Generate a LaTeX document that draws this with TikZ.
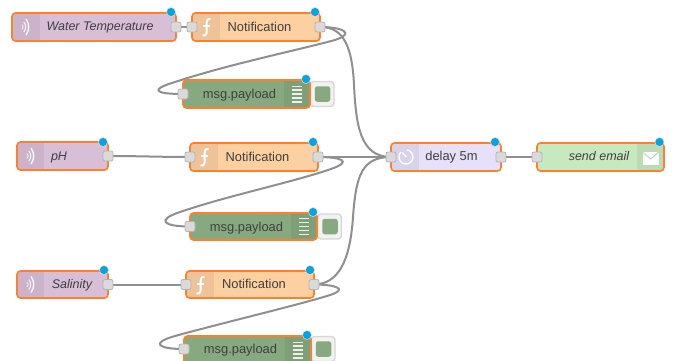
\documentclass[tikz,border=0pt]{standalone}
\usepackage{fontspec}
\setmainfont{Liberation Sans}
\usetikzlibrary{backgrounds,calc}
\definecolor{sel}{HTML}{FF7F2A}
\definecolor{wire}{HTML}{8F8F8F}
\definecolor{portf}{HTML}{DADADA}
\definecolor{portd}{HTML}{B4B4B4}
\definecolor{blue1}{HTML}{00A5E5}
\definecolor{cin}{HTML}{D8BFD8}\definecolor{cinb}{HTML}{CBB3CB}
\definecolor{cfn}{HTML}{FDD0A2}\definecolor{cfnb}{HTML}{EFC399}
\definecolor{cdbg}{HTML}{87A980}\definecolor{cdbgb}{HTML}{7F9F78}
\definecolor{cdel}{HTML}{E6E0F8}\definecolor{cdelb}{HTML}{D9D3EA}
\definecolor{cmail}{HTML}{C7E9C0}\definecolor{cmailb}{HTML}{BBDBB5}
\definecolor{ink}{HTML}{3F3F3F}
\tikzset{
  x=1pt,y=-1pt,
  bodybox/.style={draw=sel,line width=1.6pt,rounded corners=3.5pt,inner sep=0pt},
  portbox/.style={draw=portd,fill=portf,line width=0.8pt,rounded corners=2pt,minimum size=10pt,inner sep=0pt},
  dot/.style={circle,fill=blue1,draw=sel!30!white,line width=0.5pt,minimum size=9pt,inner sep=0pt},
  wirepath/.style={draw=wire,line width=2pt},
  lab/.style={text=ink,font=\fontsize{12.9}{14}\selectfont,inner sep=0pt,anchor=center},
  ilab/.style={lab,font=\fontsize{12.5}{14}\selectfont\itshape},
  togglebox/.style={draw=black!16,fill=black!5,line width=1.4pt,rounded corners=3.5pt,inner sep=0pt},
  togglefill/.style={fill=cdbg,draw=none,rounded corners=2.5pt,inner sep=0pt,minimum size=15.5pt},
}
\newcommand{\flownode}[9]{%
  \path[fill=#6,rounded corners=3.5pt] (#2,#3) rectangle (#4,#5);
  \begin{scope}
    \clip[rounded corners=3.5pt] (#2,#3) rectangle (#4,#5);
    \fill[#7] (#8,#3) rectangle (#9,#5);
  \end{scope}
  \node[bodybox,minimum width=#4pt-#2pt,minimum height=#5pt-#3pt] (#1) at ({(#2+#4)/2},{(#3+#5)/2}) {};
}
\newcommand{\wifi}[2]{%
  \draw[white,line width=.9pt,opacity=.75] (#1-3,#2-2.5) .. controls (#1-1.5,#2-1) and (#1-1.5,#2+1) .. (#1-3,#2+2.5);
  \draw[white,line width=1pt,opacity=.85] (#1-1.2,#2-5) .. controls (#1+1.3,#2-2) and (#1+1.3,#2+2) .. (#1-1.2,#2+5);
  \draw[white,line width=1.3pt] (#1+1,#2-8) .. controls (#1+4.6,#2-3.5) and (#1+4.6,#2+3.5) .. (#1+1,#2+8);
}
\newcommand{\funcicon}[2]{%
  \draw[white,line width=2pt] (#1+4.5,#2-8) .. controls (#1+1,#2-8.5) and (#1+0.5,#2-6) .. (#1+0.5,#2-3) -- (#1+0.5,#2+6) .. controls (#1+0.5,#2+8.5) and (#1-1.5,#2+9) .. (#1-3.5,#2+8.5);
  \draw[white,line width=1.5pt] (#1-3,#2-1) -- (#1+4,#2-1);
}
\newcommand{\listicon}[2]{%
  \foreach \k in {-7.8,-3.9,0,3.9,7.8}{\draw[white,line width=1.4pt,opacity=.85] (#1-5,#2+\k) -- (#1+5,#2+\k);}
}
\begin{document}
\begin{tikzpicture}
\useasboundingbox (0,0) rectangle (677,360);
% Water Temperature
\flownode{wt}{12}{13}{176}{41}{cin}{cinb}{12}{40}
\wifi{25}{27}
\node[ilab] (wtl) at (100,27.5) {Water Temperature};
\node[portbox] (wto) at (176,27) {};
\node[dot] (wtd) at (171,12) {};
% Notification 1
\flownode{n1}{192}{13}{320}{41}{cfn}{cfnb}{192}{220}
\funcicon{206}{27}
\node[lab] (n1l) at (259.5,26.5) {Notification};
\node[portbox] (n1i) at (192,27) {};
\node[portbox] (n1o) at (320,27) {};
\node[dot] (n1d) at (315,12) {};
% msg 1
\node[togglebox,minimum width=24pt,minimum height=25pt] (m1t) at (322,94) {};
\node[togglefill] (m1f) at (322.5,94) {};
\flownode{m1}{183}{80}{310}{108}{cdbg}{cdbgb}{284}{310}
\listicon{296.5}{94}
\node[lab] (m1l) at (239.5,95.5) {msg.payload};
\node[portbox] (m1i) at (183,94) {};
\node[dot] (m1d) at (306,79) {};
% pH
\flownode{ph}{17}{142}{108}{170}{cin}{cinb}{17}{44}
\wifi{30}{156}
\node[ilab] (phl) at (59,157) {pH};
\node[portbox] (pho) at (108,156) {};
\node[dot] (phd) at (103,142) {};
% Notification 2
\flownode{n2}{190}{143}{318}{171}{cfn}{cfnb}{190}{218}
\funcicon{204}{157}
\node[lab] (n2l) at (257.5,156.5) {Notification};
\node[portbox] (n2i) at (190,157) {};
\node[portbox] (n2o) at (318,157) {};
\node[dot] (n2d) at (313,142) {};
% msg 2
\node[togglebox,minimum width=24pt,minimum height=25pt] (m2t) at (329.5,226.5) {};
\node[togglefill] (m2f) at (330,226.5) {};
\flownode{m2}{190}{213}{317}{240}{cdbg}{cdbgb}{291}{317}
\listicon{303.5}{226.5}
\node[lab] (m2l) at (246.5,228) {msg.payload};
\node[portbox] (m2i) at (190,226.5) {};
\node[dot] (m2d) at (313,212) {};
% Salinity
\flownode{sa}{17}{271}{108}{298}{cin}{cinb}{17}{44}
\wifi{30}{284.5}
\node[ilab] (sal) at (72,285) {Salinity};
\node[portbox] (sao) at (108,284.5) {};
\node[dot] (sad) at (104,270) {};
% Notification 3
\flownode{n3}{186}{271}{314}{298}{cfn}{cfnb}{186}{214}
\funcicon{200}{285}
\node[lab] (n3l) at (254,284) {Notification};
\node[portbox] (n3i) at (186,284.5) {};
\node[portbox] (n3o) at (314,284.5) {};
\node[dot] (n3d) at (310,270) {};
% msg 3
\node[togglebox,minimum width=24pt,minimum height=25pt] (m3t) at (323,349) {};
\node[togglefill] (m3f) at (323.5,349) {};
\flownode{m3}{184}{336}{311}{364}{cdbg}{cdbgb}{285}{311}
\listicon{298}{350}
\node[lab] (m3l) at (240.5,350) {msg.payload};
\node[portbox] (m3i) at (184,349) {};
\node[dot] (m3d) at (307,335) {};
% delay
\flownode{de}{391}{143}{501}{171}{cdel}{cdelb}{391}{419}
\draw[white,line width=1.3pt] (406.6,150) arc (85:-225:7pt);
\draw[white,line width=1.3pt] (406,157) -- (402.5,152.5);
\node[lab] (del) at (451.5,157.5) {delay 5m};
\node[portbox] (dei) at (391,157) {};
\node[portbox] (deo) at (501,157) {};
\node[dot] (ded) at (495,142) {};
% email
\flownode{em}{537}{143}{664}{171}{cmail}{cmailb}{637}{664}
\fill[white] (642.5,151.5) rectangle (659,164.5);
\draw[cmailb,line width=1pt] (642.5,152) -- (650.7,159) -- (659,152);
\node[ilab] (eml) at (599,156.5) {send email};
\node[portbox] (emi) at (537,157) {};
\node[dot] (emd) at (659.5,142) {};
% wires
\begin{scope}[on background layer]
\draw[wirepath] (wto) -- (n1i);
\draw[wirepath] (pho.center) .. controls (140,156) and (160,157) .. (n2i.center);
\draw[wirepath] (sao) -- (n3i);
\draw[wirepath] (deo) -- (emi);
\draw[wirepath] (n1o.center) .. controls (340,27) and (352,40) .. (354,85) .. controls (356,125) and (360,157) .. (dei.center);
\draw[wirepath] (n2o) -- (dei);
\draw[wirepath] (n3o.center) .. controls (338,284) and (350,262) .. (353,217) .. controls (356,175) and (362,157) .. (dei.center);
\draw[wirepath] (n1o.center) .. controls (342,27) and (356,33) .. (335,40) .. controls (290,52) and (230,64) .. (175,82) .. controls (148,90) and (156,94) .. (m1i.center);
\draw[wirepath] (n2o.center) .. controls (340,157) and (354,161) .. (331,169) .. controls (290,183) and (230,195) .. (180,212) .. controls (156,220) and (163,226.5) .. (m2i.center);
\draw[wirepath] (n3o.center) .. controls (335,284.5) and (351,289) .. (327,296) .. controls (290,307) and (230,321) .. (175,336) .. controls (150,343) and (158,349) .. (m3i.center);
\end{scope}
\end{tikzpicture}
\end{document}
